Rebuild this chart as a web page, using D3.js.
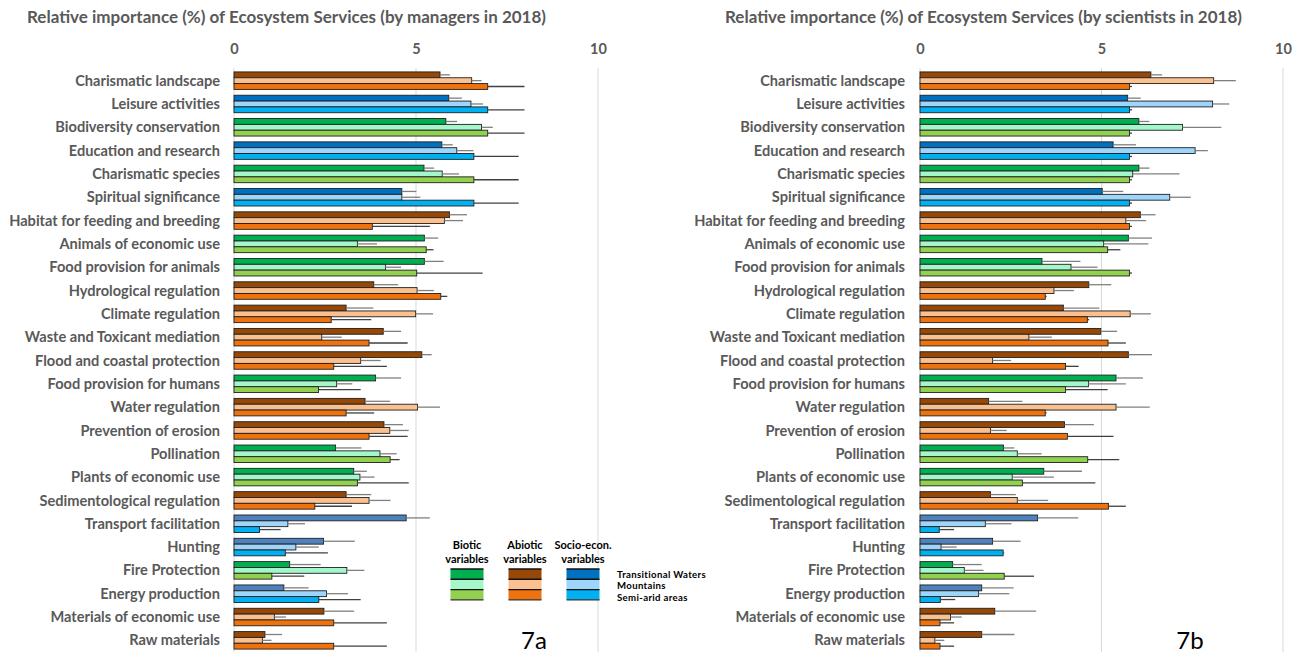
<!DOCTYPE html>
<html>
<head>
<meta charset="utf-8">
<script src="https://cdn.jsdelivr.net/npm/d3@7/dist/d3.min.js"></script>
<style>
  body { margin: 0; background: #fff; }
  svg { display: block; font-family: Lato, "Open Sans", "Liberation Sans", sans-serif; }
</style>
</head>
<body>
<svg id="chart" width="1300" height="654"></svg>
<script>
// Ecosystem services, top to bottom
const categories = [
  "Charismatic landscape", "Leisure activities", "Biodiversity conservation",
  "Education and research", "Charismatic species", "Spiritual significance",
  "Habitat for feeding and breeding", "Animals of economic use",
  "Food provision for animals", "Hydrological regulation", "Climate regulation",
  "Waste and Toxicant mediation", "Flood and coastal protection",
  "Food provision for humans", "Water regulation", "Prevention of erosion",
  "Pollination", "Plants of economic use", "Sedimentological regulation",
  "Transport facilitation", "Hunting", "Fire Protection", "Energy production",
  "Materials of economic use", "Raw materials"
];

// Variable group of each service (sets the colour family)
const serviceTypes = [
  "abiotic", "socio", "biotic", "socio", "biotic", "socio", "abiotic", "biotic",
  "biotic", "abiotic", "abiotic", "abiotic", "abiotic", "biotic", "abiotic",
  "abiotic", "biotic", "biotic", "abiotic", "socioAlt", "socioAlt", "biotic",
  "socioAlt", "abiotic", "abiotic"
];

const areas = ["Transitional Waters", "Mountains", "Semi-arid areas"];
const tickValues = [0, 5, 10];

// Managers 2018: mean relative importance (%) and error bar length
const managersTW    = [5.66, 5.90, 5.82, 5.71, 5.22, 4.61, 5.92, 5.23, 5.23, 3.84, 3.08, 4.10, 5.16, 3.89, 3.60, 4.12, 2.79, 3.29, 3.08, 4.73, 2.46, 1.53, 1.37, 2.47, 0.85];
const managersTWErr = [0.27, 0.36, 0.31, 0.30, 0.28, 0.40, 0.48, 0.38, 0.53, 0.67, 0.75, 0.49, 0.27, 0.70, 0.69, 0.52, 0.71, 0.36, 0.69, 0.65, 0.86, 0.85, 0.68, 0.83, 0.47];
const managersMT    = [6.53, 6.51, 6.80, 6.12, 5.72, 4.61, 5.78, 3.39, 4.16, 5.03, 4.99, 2.41, 3.48, 2.82, 5.04, 4.28, 4.01, 3.46, 3.71, 1.48, 1.70, 3.10, 2.54, 1.11, 0.78];
const managersMTErr = [0.27, 0.33, 0.31, 0.46, 0.46, 0.51, 0.51, 0.54, 0.43, 0.46, 0.48, 0.55, 0.55, 0.43, 0.62, 0.52, 0.46, 0.40, 0.59, 0.47, 0.63, 0.48, 0.59, 0.32, 0.25];
const managersSA    = [6.97, 6.97, 6.97, 6.59, 6.59, 6.59, 3.80, 5.28, 5.02, 5.68, 2.67, 3.71, 2.74, 2.32, 3.08, 3.71, 4.29, 3.39, 2.22, 0.70, 1.41, 1.04, 2.33, 2.74, 2.74];
const managersSAErr = [1.01, 1.01, 1.01, 1.23, 1.23, 1.23, 1.58, 0.20, 1.81, 0.18, 1.10, 1.06, 1.46, 1.16, 0.77, 1.06, 0.26, 1.41, 1.02, 0.58, 1.17, 0.89, 1.15, 1.46, 1.46];

// Scientists 2018
const scientistsTW    = [6.36, 5.72, 6.03, 5.32, 6.03, 5.02, 6.07, 5.74, 3.36, 4.65, 3.95, 4.98, 5.74, 5.40, 1.89, 3.98, 2.30, 3.41, 1.94, 3.24, 2.00, 0.90, 1.70, 2.06, 1.70];
const scientistsTWErr = [0.31, 0.36, 0.29, 0.63, 0.29, 0.58, 0.42, 0.65, 1.06, 0.62, 0.99, 0.45, 0.65, 0.74, 0.93, 0.81, 0.30, 1.05, 0.70, 1.12, 0.77, 0.80, 0.88, 1.14, 0.90];
const scientistsMT    = [8.09, 8.06, 7.23, 7.58, 5.86, 6.88, 5.67, 5.06, 4.16, 3.69, 5.79, 3.00, 2.00, 4.64, 5.40, 1.94, 2.68, 2.54, 2.68, 1.80, 0.58, 1.22, 1.61, 0.84, 0.41];
const scientistsMTErr = [0.61, 0.46, 1.07, 0.35, 1.29, 0.58, 0.56, 1.23, 0.73, 0.55, 0.57, 0.63, 0.51, 1.03, 0.93, 0.45, 0.67, 1.15, 0.85, 0.72, 0.43, 0.53, 0.85, 0.31, 0.26];
const scientistsSA    = [5.77, 5.77, 5.77, 5.77, 5.77, 5.77, 5.77, 5.17, 5.77, 3.45, 4.61, 5.18, 4.01, 4.01, 3.45, 4.06, 4.62, 2.82, 5.19, 0.53, 2.29, 2.32, 0.56, 0.55, 0.55];
const scientistsSAErr = [0.07, 0.07, 0.07, 0.07, 0.07, 0.07, 0.07, 0.35, 0.07, 0.04, 0.05, 0.49, 0.36, 1.16, 0.04, 1.27, 0.87, 2.01, 0.48, 0.41, 0.03, 0.82, 0.41, 0.39, 0.39];

// Colour family for each variable group: [Transitional Waters, Mountains, Semi-arid]
const palette = {
  biotic:   ["#00b050", "#a3f7cb", "#92d050"],
  abiotic:  ["#974706", "#fac090", "#ee720e"],
  socio:    ["#0070c0", "#9dd5fb", "#00b0f0"],
  socioAlt: ["#4f81bd", "#9dd5fb", "#00b0f0"]
};

const legendGroups = [
  { key: "biotic",  lines: ["Biotic", "variables"] },
  { key: "abiotic", lines: ["Abiotic", "variables"] },
  { key: "socio",   lines: ["Socio-econ.", "variables"] }
];

const textGrey = "#595959";
const svg = d3.select("#chart");
svg.append("rect").attr("width", 1300).attr("height", 654).attr("fill", "#fff");

const y = d3.scaleBand().domain(categories).range([69, 652]).paddingInner(0.25).paddingOuter(0.125);
const sub = d3.scaleBand().domain([0, 1, 2]).range([0, y.bandwidth()]);

function drawPanel(cfg) {
  const x = d3.scaleLinear().domain([0, 10]).range(cfg.xRange);
  const g = svg.append("g");

  g.append("text")
    .attr("x", cfg.titleX).attr("y", 23)
    .attr("font-size", 17).attr("font-weight", 700).attr("fill", textGrey)
    .text(cfg.title);

  // vertical gridlines
  g.selectAll("line.grid").data(tickValues).join("line")
    .attr("class", "grid")
    .attr("x1", d => x(d)).attr("x2", d => x(d))
    .attr("y1", 68).attr("y2", 652)
    .attr("stroke", "#d9d9d9").attr("stroke-width", 1);

  // top axis labels
  const axis = d3.axisTop(x).tickValues(tickValues).tickSize(0).tickPadding(0).tickFormat(d3.format("d"));
  const ax = g.append("g").attr("transform", "translate(0,54)").call(axis);
  ax.select(".domain").remove();
  ax.selectAll("text")
    .attr("font-size", 14.5).attr("font-weight", 700).attr("fill", textGrey)
    .attr("font-family", "Lato, 'Open Sans', sans-serif").attr("dy", 0);

  // category labels
  g.selectAll("text.cat").data(categories).join("text")
    .attr("class", "cat")
    .attr("x", cfg.labelRight)
    .attr("y", d => y(d) + y.bandwidth() / 2)
    .attr("dy", "0.35em")
    .attr("text-anchor", "end")
    .attr("font-size", 14.6).attr("font-weight", 700).attr("fill", textGrey)
    .text(d => d);

  const rows = [];
  categories.forEach((c, i) => {
    cfg.series.forEach((s, k) => {
      rows.push({ cat: c, k, v: s.values[i], e: s.errs[i], color: palette[serviceTypes[i]][k] });
    });
  });

  const rowG = g.append("g");
  rowG.selectAll("rect").data(rows).join("rect")
    .attr("x", x(0))
    .attr("y", d => y(d.cat) + sub(d.k))
    .attr("width", d => x(d.v) - x(0))
    .attr("height", sub.bandwidth())
    .attr("fill", d => d.color)
    .attr("stroke", "#1f1f1f").attr("stroke-width", 0.9);

  rowG.selectAll("line.err").data(rows).join("line")
    .attr("class", "err")
    .attr("x1", d => x(d.v)).attr("x2", d => x(d.v + d.e))
    .attr("y1", d => y(d.cat) + sub(d.k) + sub.bandwidth() / 2)
    .attr("y2", d => y(d.cat) + sub(d.k) + sub.bandwidth() / 2)
    .attr("stroke", d => d.k === 2 ? "#404040" : "#808080")
    .attr("stroke-width", 1.3);

  g.append("text")
    .attr("x", cfg.tagX).attr("y", 649)
    .attr("text-anchor", "middle")
    .attr("font-size", 24).attr("fill", "#000")
    .text(cfg.tag);
}

drawPanel({
  title: "Relative importance (%) of Ecosystem Services (by managers in 2018)",
  titleX: 27, labelRight: 220, xRange: [234, 598], tag: "7a", tagX: 534,
  series: [
    { values: managersTW, errs: managersTWErr },
    { values: managersMT, errs: managersMTErr },
    { values: managersSA, errs: managersSAErr }
  ]
});

drawPanel({
  title: "Relative importance (%) of Ecosystem Services (by scientists in 2018)",
  titleX: 725, labelRight: 905, xRange: [920, 1283], tag: "7b", tagX: 1190,
  series: [
    { values: scientistsTW, errs: scientistsTWErr },
    { values: scientistsMT, errs: scientistsMTErr },
    { values: scientistsSA, errs: scientistsSAErr }
  ]
});

// legend
const legend = svg.append("g");
const legendX = d3.scalePoint().domain(legendGroups.map(d => d.key)).range([467, 583]);
const swW = 33, swH = 10.3, swTop = 569;

legendGroups.forEach(grp => {
  const cx = legendX(grp.key);
  grp.lines.forEach((t, j) => {
    legend.append("text")
      .attr("x", cx).attr("y", 549 + j * 13.5)
      .attr("text-anchor", "middle")
      .attr("font-size", 11).attr("font-weight", 700).attr("fill", "#000")
      .text(t);
  });
  palette[grp.key].forEach((col, k) => {
    legend.append("rect")
      .attr("x", cx - swW / 2).attr("y", swTop + k * swH)
      .attr("width", swW).attr("height", swH)
      .attr("fill", col);
    legend.append("line")
      .attr("x1", cx - swW / 2).attr("x2", cx + swW / 2)
      .attr("y1", swTop + k * swH).attr("y2", swTop + k * swH)
      .attr("stroke", "#111").attr("stroke-width", 1.4);
  });
  legend.append("line")
    .attr("x1", cx - swW / 2).attr("x2", cx + swW / 2)
    .attr("y1", swTop + 3 * swH).attr("y2", swTop + 3 * swH)
    .attr("stroke", "#333").attr("stroke-width", 1.4);
});

legend.selectAll("text.area").data(areas).join("text")
  .attr("class", "area")
  .attr("x", 617).attr("y", (d, i) => 578 + i * 11.4)
  .attr("font-size", 9.6).attr("font-weight", 700).attr("fill", "#000")
  .attr("letter-spacing", 0.35)
  .text(d => d);
</script>
</body>
</html>
